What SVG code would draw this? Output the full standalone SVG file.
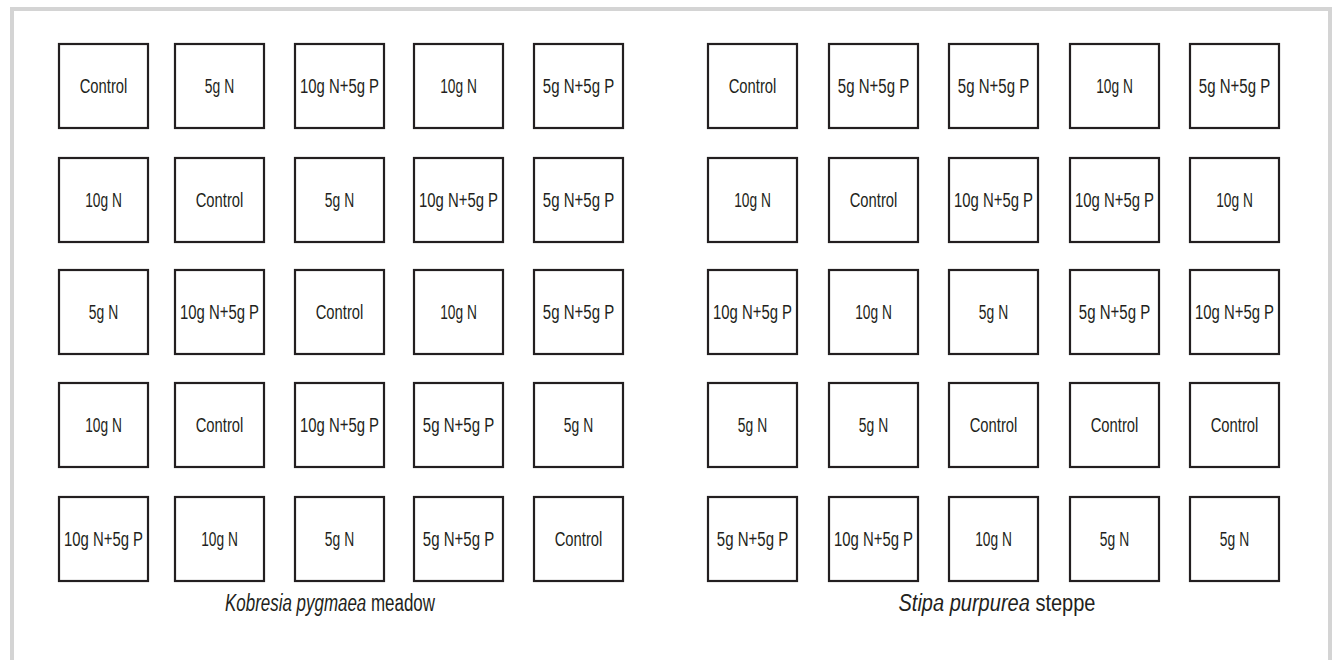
<svg xmlns="http://www.w3.org/2000/svg" width="1332" height="660" viewBox="0 0 1332 660">
<style>
.plot rect{fill:#fff;stroke:#231f20;stroke-width:2.2}
.plot text{font-family:"Liberation Sans",Arial,sans-serif;font-size:20px;fill:#231f20;text-anchor:middle}
.c{}
.cap{font-family:"Liberation Sans",Arial,sans-serif;font-size:23px;fill:#231f20;text-anchor:middle}
</style>
<rect x="0" y="0" width="1332" height="660" fill="#fff"/>
<rect x="12" y="9" width="1318" height="700" fill="none" stroke="#d4d4d4" stroke-width="4"/>
<g id="connectors"/>
<g id="left-grid">
<g id="L11" class="plot"><rect x="59" y="44" width="89" height="84"/><text x="103.5" y="93" textLength="47.6" lengthAdjust="spacingAndGlyphs">Control</text></g>
<g id="L12" class="plot"><rect x="175" y="44" width="89" height="84"/><text x="219.5" y="93" textLength="29.3" lengthAdjust="spacingAndGlyphs">5g N</text></g>
<g id="L13" class="plot"><rect x="295" y="44" width="89" height="84"/><text x="339.5" y="93" textLength="79" lengthAdjust="spacingAndGlyphs">10g N+5g P</text></g>
<g id="L14" class="plot"><rect x="414" y="44" width="89" height="84"/><text x="458.5" y="93" textLength="36.7" lengthAdjust="spacingAndGlyphs">10g N</text></g>
<g id="L15" class="plot"><rect x="534" y="44" width="89" height="84"/><text x="578.5" y="93" textLength="71.3" lengthAdjust="spacingAndGlyphs">5g N+5g P</text></g>
<g id="L21" class="plot"><rect x="59" y="158" width="89" height="84"/><text x="103.5" y="207" textLength="36.7" lengthAdjust="spacingAndGlyphs">10g N</text></g>
<g id="L22" class="plot"><rect x="175" y="158" width="89" height="84"/><text x="219.5" y="207" textLength="47.6" lengthAdjust="spacingAndGlyphs">Control</text></g>
<g id="L23" class="plot"><rect x="295" y="158" width="89" height="84"/><text x="339.5" y="207" textLength="29.3" lengthAdjust="spacingAndGlyphs">5g N</text></g>
<g id="L24" class="plot"><rect x="414" y="158" width="89" height="84"/><text x="458.5" y="207" textLength="79" lengthAdjust="spacingAndGlyphs">10g N+5g P</text></g>
<g id="L25" class="plot"><rect x="534" y="158" width="89" height="84"/><text x="578.5" y="207" textLength="71.3" lengthAdjust="spacingAndGlyphs">5g N+5g P</text></g>
<g id="L31" class="plot"><rect x="59" y="270" width="89" height="84"/><text x="103.5" y="319" textLength="29.3" lengthAdjust="spacingAndGlyphs">5g N</text></g>
<g id="L32" class="plot"><rect x="175" y="270" width="89" height="84"/><text x="219.5" y="319" textLength="79" lengthAdjust="spacingAndGlyphs">10g N+5g P</text></g>
<g id="L33" class="plot"><rect x="295" y="270" width="89" height="84"/><text x="339.5" y="319" textLength="47.6" lengthAdjust="spacingAndGlyphs">Control</text></g>
<g id="L34" class="plot"><rect x="414" y="270" width="89" height="84"/><text x="458.5" y="319" textLength="36.7" lengthAdjust="spacingAndGlyphs">10g N</text></g>
<g id="L35" class="plot"><rect x="534" y="270" width="89" height="84"/><text x="578.5" y="319" textLength="71.3" lengthAdjust="spacingAndGlyphs">5g N+5g P</text></g>
<g id="L41" class="plot"><rect x="59" y="383" width="89" height="84"/><text x="103.5" y="432" textLength="36.7" lengthAdjust="spacingAndGlyphs">10g N</text></g>
<g id="L42" class="plot"><rect x="175" y="383" width="89" height="84"/><text x="219.5" y="432" textLength="47.6" lengthAdjust="spacingAndGlyphs">Control</text></g>
<g id="L43" class="plot"><rect x="295" y="383" width="89" height="84"/><text x="339.5" y="432" textLength="79" lengthAdjust="spacingAndGlyphs">10g N+5g P</text></g>
<g id="L44" class="plot"><rect x="414" y="383" width="89" height="84"/><text x="458.5" y="432" textLength="71.3" lengthAdjust="spacingAndGlyphs">5g N+5g P</text></g>
<g id="L45" class="plot"><rect x="534" y="383" width="89" height="84"/><text x="578.5" y="432" textLength="29.3" lengthAdjust="spacingAndGlyphs">5g N</text></g>
<g id="L51" class="plot"><rect x="59" y="497" width="89" height="84"/><text x="103.5" y="546" textLength="79" lengthAdjust="spacingAndGlyphs">10g N+5g P</text></g>
<g id="L52" class="plot"><rect x="175" y="497" width="89" height="84"/><text x="219.5" y="546" textLength="36.7" lengthAdjust="spacingAndGlyphs">10g N</text></g>
<g id="L53" class="plot"><rect x="295" y="497" width="89" height="84"/><text x="339.5" y="546" textLength="29.3" lengthAdjust="spacingAndGlyphs">5g N</text></g>
<g id="L54" class="plot"><rect x="414" y="497" width="89" height="84"/><text x="458.5" y="546" textLength="71.3" lengthAdjust="spacingAndGlyphs">5g N+5g P</text></g>
<g id="L55" class="plot"><rect x="534" y="497" width="89" height="84"/><text x="578.5" y="546" textLength="47.6" lengthAdjust="spacingAndGlyphs">Control</text></g>
</g>
<g id="right-grid">
<g id="R11" class="plot"><rect x="708" y="44" width="89" height="84"/><text x="752.5" y="93" textLength="47.6" lengthAdjust="spacingAndGlyphs">Control</text></g>
<g id="R12" class="plot"><rect x="829" y="44" width="89" height="84"/><text x="873.5" y="93" textLength="71.3" lengthAdjust="spacingAndGlyphs">5g N+5g P</text></g>
<g id="R13" class="plot"><rect x="949" y="44" width="89" height="84"/><text x="993.5" y="93" textLength="71.3" lengthAdjust="spacingAndGlyphs">5g N+5g P</text></g>
<g id="R14" class="plot"><rect x="1070" y="44" width="89" height="84"/><text x="1114.5" y="93" textLength="36.7" lengthAdjust="spacingAndGlyphs">10g N</text></g>
<g id="R15" class="plot"><rect x="1190" y="44" width="89" height="84"/><text x="1234.5" y="93" textLength="71.3" lengthAdjust="spacingAndGlyphs">5g N+5g P</text></g>
<g id="R21" class="plot"><rect x="708" y="158" width="89" height="84"/><text x="752.5" y="207" textLength="36.7" lengthAdjust="spacingAndGlyphs">10g N</text></g>
<g id="R22" class="plot"><rect x="829" y="158" width="89" height="84"/><text x="873.5" y="207" textLength="47.6" lengthAdjust="spacingAndGlyphs">Control</text></g>
<g id="R23" class="plot"><rect x="949" y="158" width="89" height="84"/><text x="993.5" y="207" textLength="79" lengthAdjust="spacingAndGlyphs">10g N+5g P</text></g>
<g id="R24" class="plot"><rect x="1070" y="158" width="89" height="84"/><text x="1114.5" y="207" textLength="79" lengthAdjust="spacingAndGlyphs">10g N+5g P</text></g>
<g id="R25" class="plot"><rect x="1190" y="158" width="89" height="84"/><text x="1234.5" y="207" textLength="36.7" lengthAdjust="spacingAndGlyphs">10g N</text></g>
<g id="R31" class="plot"><rect x="708" y="270" width="89" height="84"/><text x="752.5" y="319" textLength="79" lengthAdjust="spacingAndGlyphs">10g N+5g P</text></g>
<g id="R32" class="plot"><rect x="829" y="270" width="89" height="84"/><text x="873.5" y="319" textLength="36.7" lengthAdjust="spacingAndGlyphs">10g N</text></g>
<g id="R33" class="plot"><rect x="949" y="270" width="89" height="84"/><text x="993.5" y="319" textLength="29.3" lengthAdjust="spacingAndGlyphs">5g N</text></g>
<g id="R34" class="plot"><rect x="1070" y="270" width="89" height="84"/><text x="1114.5" y="319" textLength="71.3" lengthAdjust="spacingAndGlyphs">5g N+5g P</text></g>
<g id="R35" class="plot"><rect x="1190" y="270" width="89" height="84"/><text x="1234.5" y="319" textLength="79" lengthAdjust="spacingAndGlyphs">10g N+5g P</text></g>
<g id="R41" class="plot"><rect x="708" y="383" width="89" height="84"/><text x="752.5" y="432" textLength="29.3" lengthAdjust="spacingAndGlyphs">5g N</text></g>
<g id="R42" class="plot"><rect x="829" y="383" width="89" height="84"/><text x="873.5" y="432" textLength="29.3" lengthAdjust="spacingAndGlyphs">5g N</text></g>
<g id="R43" class="plot"><rect x="949" y="383" width="89" height="84"/><text x="993.5" y="432" textLength="47.6" lengthAdjust="spacingAndGlyphs">Control</text></g>
<g id="R44" class="plot"><rect x="1070" y="383" width="89" height="84"/><text x="1114.5" y="432" textLength="47.6" lengthAdjust="spacingAndGlyphs">Control</text></g>
<g id="R45" class="plot"><rect x="1190" y="383" width="89" height="84"/><text x="1234.5" y="432" textLength="47.6" lengthAdjust="spacingAndGlyphs">Control</text></g>
<g id="R51" class="plot"><rect x="708" y="497" width="89" height="84"/><text x="752.5" y="546" textLength="71.3" lengthAdjust="spacingAndGlyphs">5g N+5g P</text></g>
<g id="R52" class="plot"><rect x="829" y="497" width="89" height="84"/><text x="873.5" y="546" textLength="79" lengthAdjust="spacingAndGlyphs">10g N+5g P</text></g>
<g id="R53" class="plot"><rect x="949" y="497" width="89" height="84"/><text x="993.5" y="546" textLength="36.7" lengthAdjust="spacingAndGlyphs">10g N</text></g>
<g id="R54" class="plot"><rect x="1070" y="497" width="89" height="84"/><text x="1114.5" y="546" textLength="29.3" lengthAdjust="spacingAndGlyphs">5g N</text></g>
<g id="R55" class="plot"><rect x="1190" y="497" width="89" height="84"/><text x="1234.5" y="546" textLength="29.3" lengthAdjust="spacingAndGlyphs">5g N</text></g>
</g>
<g id="captions">
<text class="cap" x="330" y="611" textLength="210" lengthAdjust="spacingAndGlyphs"><tspan font-style="italic">Kobresia pygmaea</tspan> meadow</text>
<text class="cap" x="997" y="611" textLength="197" lengthAdjust="spacingAndGlyphs"><tspan font-style="italic">Stipa purpurea</tspan> steppe</text>
</g>
</svg>
